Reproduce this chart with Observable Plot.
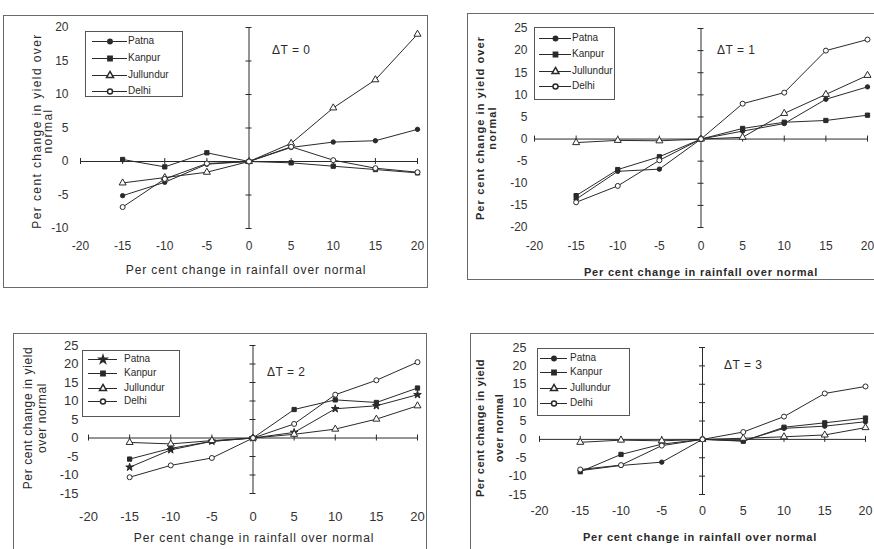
<!DOCTYPE html>
<html><head><meta charset="utf-8">
<script src="https://cdn.jsdelivr.net/npm/d3@7"></script>
<script src="https://cdn.jsdelivr.net/npm/@observablehq/plot@0.6"></script>
<style>
body{margin:0;background:#fff;width:874px;height:549px;overflow:hidden;position:relative;font-family:"Liberation Sans",Arial,sans-serif;color:#2a2a2a}
.panel{position:absolute}
.frame{position:absolute;left:0;top:0;right:0;bottom:0;border:1px solid #6a6a6a;box-sizing:border-box}
.panel svg{position:absolute;left:0;top:0}
.legend{position:absolute;border:1px solid #555;background:#fff;box-sizing:border-box}
.entry{position:absolute;left:0;height:12px;white-space:nowrap;font-size:10px;line-height:12px}
.entry svg{position:absolute;top:0}
.entry span{position:absolute;top:0}
.dt{position:absolute;font-size:12px;white-space:nowrap;line-height:14px;letter-spacing:0.5px}
.xt{position:absolute;white-space:nowrap;transform:translate(-50%,-50%)}
.yt{position:absolute;white-space:nowrap;transform:translate(-50%,-50%) rotate(-90deg)}
</style>
</head><body>
<script>
// ---- data ----
const rainfall = [-15, -10, -5, 0, 5, 10, 15, 20];
const stations = ["Patna", "Kanpur", "Jullundur", "Delhi"];
const xTicks = [-20, -15, -10, -5, 0, 5, 10, 15, 20];
const yTicksT0 = [-10, -5, 0, 5, 10, 15, 20];
const yTicksT1 = [-20, -15, -10, -5, 0, 5, 10, 15, 20, 25];
const yTicksT2 = [-15, -10, -5, 0, 5, 10, 15, 20, 25];
const yTicksT3 = [-15, -10, -5, 0, 5, 10, 15, 20, 25];
const panelLabels = ["\u0394T = 0", "\u0394T = 1", "\u0394T = 2", "\u0394T = 3"];

// ΔT = 0
const patnaT0     = [-5.1, -3.1, -0.4, 0, 2.1, 2.9, 3.1, 4.8];
const kanpurT0    = [0.3, -0.8, 1.3, 0, -0.2, -0.7, -1.2, -1.7];
const jullundurT0 = [-3.2, -2.4, -1.6, 0, 2.7, 8.0, 12.2, 19.0];
const delhiT0     = [-6.8, -2.6, -0.3, 0, 2.2, 0.2, -1.0, -1.6];
// ΔT = 1
const patnaT1     = [-13.6, -7.3, -6.8, 0, 1.8, 3.5, 9.0, 11.8];
const kanpurT1    = [-12.8, -6.9, -4.0, 0, 2.4, 3.8, 4.2, 5.4];
const jullundurT1 = [-0.8, -0.3, -0.4, 0, 0.4, 5.8, 10.1, 14.4];
const delhiT1     = [-14.3, -10.6, -4.8, 0, 8.0, 10.5, 20.0, 22.5];
// ΔT = 2
const patnaT2     = [-7.9, -3.2, -0.9, 0, 1.5, 7.9, 8.7, 11.7];
const kanpurT2    = [-5.7, -2.8, -0.9, 0, 7.7, 10.3, 9.6, 13.5];
const jullundurT2 = [-1.2, -1.6, -0.7, 0, 1.0, 2.4, 5.1, 8.7];
const delhiT2     = [-10.6, -7.4, -5.4, 0, 3.8, 11.7, 15.6, 20.5];
// ΔT = 3
const patnaT3     = [-8.5, -7.1, -6.2, 0, -0.4, 3.0, 3.6, 4.8];
const kanpurT3    = [-8.8, -4.1, -1.3, 0, -0.5, 3.3, 4.5, 5.8];
const jullundurT3 = [-0.8, -0.2, -0.4, 0, 0.3, 0.7, 1.2, 3.2];
const delhiT3     = [-8.2, -7.0, -1.7, 0, 2.0, 6.2, 12.5, 14.4];

// ---- styles / layout ----
const INK = "#2a2a2a";
const markerStyle = {
  Patna:     {symbol: "circle",   fill: INK,    r: 2.2},
  Kanpur:    {symbol: "square",   fill: INK,    r: 2.4},
  Jullundur: {symbol: "triangle", fill: "#fff", r: 2.6},
  Delhi:     {symbol: "circle",   fill: "#fff", r: 2.5}
};

const panels = [
  {series: [patnaT0, kanpurT0, jullundurT0, delhiT0], yTicks: yTicksT0, label: panelLabels[0],
   L: 3, T: 15, W: 425, H: 273, mL: 77, mR: 11, mT: 12, mB: 60, xPad: 13, yPad: 12, fs: 12, bold: false,
   xTitle: [243, 255], yTitle: {lines: ["Per cent change in yield over", "normal"], xs: [34, 45], y: 116},
   legend: {x: 82, y: 16, w: 98, h: 66, rows: [9, 26, 43, 59], l0: 7, l1: 40, tx: 42},
   dt: [269, 28], titleSize: 12, xls: 0.9, yls: 1.4},
  {series: [patnaT1, kanpurT1, jullundurT1, delhiT1], yTicks: yTicksT1, label: panelLabels[1],
   L: 467, T: 13, W: 412, H: 267, mL: 67, mR: 12, mT: 15, mB: 53, xPad: 14, yPad: 7, fs: 12, bold: true,
   xTitle: [234, 259], yTitle: {lines: ["Per cent change in yield over", "normal"], xs: [13, 25], y: 115},
   legend: {x: 67, y: 14, w: 81, h: 73, rows: [10, 26, 43, 58], l0: 5, l1: 35, tx: 37},
   dt: [250, 30], titleSize: 11, xls: 0.8, yls: 1.1},
  {series: [patnaT2, kanpurT2, jullundurT2, delhiT2], yTicks: yTicksT2, label: panelLabels[2],
   L: 13, T: 333, W: 414, H: 222, mL: 75, mR: 10, mT: 12, mB: 62, xPad: 18, yPad: 10, fs: 13, bold: false,
   xTitle: [241, 205], yTitle: {lines: ["Per cent change in yield", "over normal"], xs: [15, 29], y: 85},
   legend: {x: 69, y: 17, w: 98, h: 67, rows: [8, 22, 37, 50], l0: 6, l1: 33, tx: 41},
   dt: [254, 32], titleSize: 12, xls: 0.9, yls: 0.6, patnaSymbol: "star"},
  {series: [patnaT3, kanpurT3, jullundurT3, delhiT3], yTicks: yTicksT3, label: panelLabels[3],
   L: 470, T: 333, W: 408, H: 222, mL: 69, mR: 13, mT: 14, mB: 61, xPad: 12, yPad: 13, fs: 12.5, bold: true,
   xTitle: [230, 204], yTitle: {lines: ["Per cent change in yield", "over normal"], xs: [10, 29], y: 95},
   legend: {x: 67, y: 15, w: 93, h: 68, rows: [9, 23, 39, 54], l0: 3, l1: 28, tx: 32},
   dt: [254, 25], titleSize: 11, xls: 0.8, yls: 0.5}
];

function styleFor(s, cfg) {
  const st = {...markerStyle[s]};
  if (s === "Patna" && cfg.patnaSymbol) { st.symbol = cfg.patnaSymbol; st.r = 2.4; }
  return st;
}

function drawPanel(cfg) {
  const wrap = document.createElement("div");
  wrap.className = "panel";
  Object.assign(wrap.style, {left: cfg.L + "px", top: cfg.T + "px", width: cfg.W + "px", height: cfg.H + "px"});
  document.body.appendChild(wrap);

  const data = stations.flatMap((s, i) => rainfall.map((r, j) => ({station: s, x: r, y: cfg.series[i][j]})));
  const yMin = d3.min(cfg.yTicks), yMax = d3.max(cfg.yTicks);

  const marks = [
    Plot.ruleY([0], {x1: d3.min(xTicks), x2: d3.max(xTicks), stroke: INK, strokeWidth: 1}),
    Plot.ruleX([0], {y1: yMin, y2: yMax, stroke: INK, strokeWidth: 1}),
    Plot.ruleY(cfg.yTicks, {y: d => d, x1: 0, x2: 0, insetLeft: -3, insetRight: -3, stroke: INK}),
    Plot.ruleX(xTicks, {x: d => d, y1: 0, y2: 0, insetTop: -3, insetBottom: -3, stroke: INK}),
    Plot.axisX({ticks: xTicks, tickSize: 0, tickPadding: cfg.xPad, tickFormat: d => String(d), label: null, fill: "#333"}),
    Plot.axisY({ticks: cfg.yTicks, tickSize: 0, tickPadding: cfg.yPad, tickFormat: d => String(d), label: null, fill: "#333"}),
    Plot.line(data, {x: "x", y: "y", z: "station", stroke: INK, strokeWidth: 1})
  ];
  stations.forEach(s => {
    const st = styleFor(s, cfg);
    marks.push(Plot.dot(data.filter(d => d.station === s),
      {x: "x", y: "y", symbol: st.symbol, fill: st.fill, stroke: INK, strokeWidth: 1, r: st.r}));
  });

  const chart = Plot.plot({
    width: cfg.W, height: cfg.H,
    marginLeft: cfg.mL, marginRight: cfg.mR, marginTop: cfg.mT, marginBottom: cfg.mB,
    x: {domain: [-20, 20], axis: null},
    y: {domain: [yMin, yMax], axis: null},
    style: {background: "transparent", fontSize: cfg.fs + "px", fontFamily: "Liberation Sans, Arial, sans-serif", overflow: "visible"},
    marks
  });
  wrap.appendChild(chart);

  const frame = document.createElement("div");
  frame.className = "frame";
  wrap.appendChild(frame);

  // legend
  const lg = cfg.legend;
  const box = document.createElement("div");
  box.className = "legend";
  Object.assign(box.style, {left: lg.x + "px", top: lg.y + "px", width: lg.w + "px", height: lg.h + "px"});
  stations.forEach((s, i) => {
    const st = styleFor(s, cfg);
    const e = document.createElement("div");
    e.className = "entry";
    e.style.top = (lg.rows[i] - 6) + "px";
    e.style.width = lg.w + "px";
    const sw = Plot.plot({
      width: lg.l1 - lg.l0 + 2, height: 12, margin: 0,
      x: {domain: [0, 1], axis: null}, y: {domain: [0, 1], axis: null},
      style: {background: "transparent", overflow: "visible"},
      marks: [
        Plot.ruleY([0.5], {stroke: INK, strokeWidth: 1}),
        Plot.dot([0.5], {x: d => d, y: 0.5, symbol: st.symbol, fill: st.fill, stroke: INK, r: st.r})
      ]
    });
    sw.style.left = (lg.l0 - 1) + "px";
    e.appendChild(sw);
    const t = document.createElement("span");
    t.textContent = s;
    t.style.left = lg.tx + "px";
    e.appendChild(t);
    box.appendChild(e);
  });
  wrap.appendChild(box);

  // ΔT label
  const dt = document.createElement("div");
  dt.className = "dt";
  dt.textContent = cfg.label;
  Object.assign(dt.style, {left: cfg.dt[0] + "px", top: cfg.dt[1] + "px"});
  wrap.appendChild(dt);

  // axis titles
  const xt = document.createElement("div");
  xt.className = "xt";
  xt.textContent = "Per cent change in rainfall over normal";
  Object.assign(xt.style, {left: cfg.xTitle[0] + "px", top: cfg.xTitle[1] + "px",
    fontSize: cfg.titleSize + "px", fontWeight: cfg.bold ? "bold" : "normal", letterSpacing: cfg.xls + "px"});
  wrap.appendChild(xt);
  cfg.yTitle.lines.forEach((line, k) => {
    const yt = document.createElement("div");
    yt.className = "yt";
    yt.textContent = line;
    Object.assign(yt.style, {left: cfg.yTitle.xs[k] + "px", top: cfg.yTitle.y + "px",
      fontSize: cfg.titleSize + "px", fontWeight: cfg.bold ? "bold" : "normal", letterSpacing: cfg.yls + "px"});
    wrap.appendChild(yt);
  });
}

panels.forEach(drawPanel);
</script>
</body></html>
